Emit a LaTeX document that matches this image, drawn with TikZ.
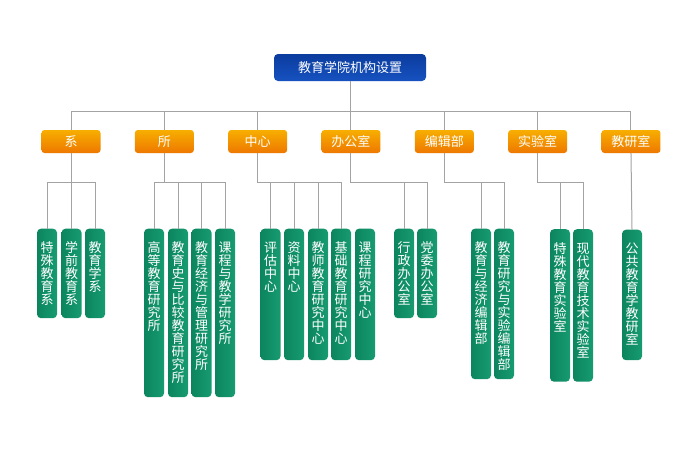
\documentclass[tikz,border=0pt]{standalone}
\usepackage{fontspec}
\setmainfont{Noto Sans CJK SC}
\usepackage{tikz}
\usetikzlibrary{positioning}
\lineskiplimit=-5pt
\definecolor{rootbluetop}{HTML}{0B3C9E}
\definecolor{rootbluebot}{HTML}{1652C0}
\definecolor{depttop}{HTML}{F7AE00}
\definecolor{deptbot}{HTML}{EE7800}
\definecolor{unitleft}{HTML}{0B855E}
\definecolor{unitright}{HTML}{189B71}
\definecolor{linegray}{HTML}{A3A3A3}
\tikzstyle{root} = [rectangle, rounded corners=4pt, minimum width=152pt, minimum height=27pt, text=white, top color=rootbluetop, bottom color=rootbluebot, font=\fontsize{13pt}{13pt}\selectfont]
\tikzstyle{dept} = [rectangle, rounded corners=3pt, minimum width=59pt, minimum height=23pt, text=white, top color=depttop, bottom color=deptbot, font=\fontsize{13pt}{13pt}\selectfont]
\tikzstyle{unit} = [rectangle, rounded corners=4pt, minimum width=20pt, text width=14pt, inner sep=0pt, align=center, anchor=north, text=white, left color=unitleft, right color=unitright, text height=24pt, text depth=#1, font=\fontsize{13pt}{13pt}\selectfont]
\tikzstyle{line} = [draw=linegray, line width=1pt]

\begin{document}
\begin{tikzpicture}[x=1pt, y=-1pt, node distance=93.33pt]
        \fill [white] (0,0) rectangle (700,467);

        \node (root) [root] at (350,67.5) {教育学院机构设置};

        \node (xi) [dept] at (71,141.5) {系};
        \node (suo) [dept, right of=xi] {所};
        \node (zx) [dept, right of=suo] {中心};
        \node (bg) [dept, right of=zx] {办公室};
        \node (bj) [dept, right of=bg] {编辑部};
        \node (sy) [dept, right of=bj] {实验室};
        \node (jy) [dept, right of=sy] {教研室};

        % 系
        \node (xi1) [unit=65.5pt] at (47,228.5) {特\\殊\\教\\育\\系};
        \node (xi2) [unit=65.5pt] at (71.5,228.5) {学\\前\\教\\育\\系};
        \node (xi3) [unit=65.5pt] at (95,228.5) {教\\育\\学\\系};
        % 所
        \node (suo1) [unit=144.5pt] at (154,228.5) {高\\等\\教\\育\\研\\究\\所};
        \node (suo2) [unit=144.5pt] at (178,228.5) {教\\育\\史\\与\\比\\较\\教\\育\\研\\究\\所};
        \node (suo3) [unit=144.5pt] at (201.5,228.5) {教\\育\\经\\济\\与\\管\\理\\研\\究\\所};
        \node (suo4) [unit=144.5pt] at (225,228.5) {课\\程\\与\\教\\学\\研\\究\\所};
        % 中心
        \node (zx1) [unit=107.5pt] at (270.5,228.5) {评\\估\\中\\心};
        \node (zx2) [unit=107.5pt] at (294,228.5) {资\\料\\中\\心};
        \node (zx3) [unit=107.5pt] at (318,228.5) {教\\师\\教\\育\\研\\究\\中\\心};
        \node (zx4) [unit=107.5pt] at (341,228.5) {基\\础\\教\\育\\研\\究\\中\\心};
        \node (zx5) [unit=107.5pt] at (365,228.5) {课\\程\\研\\究\\中\\心};
        % 办公室
        \node (bg1) [unit=65.5pt] at (404,228.5) {行\\政\\办\\公\\室};
        \node (bg2) [unit=65.5pt] at (427,228.5) {党\\委\\办\\公\\室};
        % 编辑部
        \node (bj1) [unit=126.5pt] at (481,228.5) {教\\育\\与\\经\\济\\编\\辑\\部};
        \node (bj2) [unit=126.5pt] at (504,228.5) {教\\育\\研\\究\\与\\实\\验\\编\\辑\\部};
        % 实验室
        \node (sy1) [unit=128.5pt] at (560,229) {特\\殊\\教\\育\\实\\验\\室};
        \node (sy2) [unit=128.5pt] at (583,229) {现\\代\\教\\育\\技\\术\\实\\验\\室};
        % 教研室
        \node (jy1) [unit=106.5pt] at (632,229.5) {公\\共\\教\\育\\学\\教\\研\\室};

        % Draw edges
        \foreach \d in {xi,suo,zx,bg,bj,sy,jy}
            \path [line] (root.south) -- ++(0,30) -| (\d.north);
        \foreach \u in {xi1,xi2,xi3}
            \path [line] (xi.south) -- ++(0,29) -| (\u.north);
        \foreach \u in {suo1,suo2,suo3,suo4}
            \path [line] (suo.south) -- ++(0,29) -| (\u.north);
        \foreach \u in {zx1,zx2,zx3,zx4}
            \path [line] (zx.south) -- ++(0,29) -| (\u.north);
        \foreach \u in {bg1,bg2}
            \path [line] (bg.south) -- ++(0,29) -| (\u.north);
        \foreach \u in {bj1,bj2}
            \path [line] (bj.south) -- ++(0,29) -| (\u.north);
        \foreach \u in {sy1,sy2}
            \path [line] (sy.south) -- ++(0,29) -| (\u.north);
        \path [line] (jy.south) -- (jy1.north);

\end{tikzpicture}
\end{document}
